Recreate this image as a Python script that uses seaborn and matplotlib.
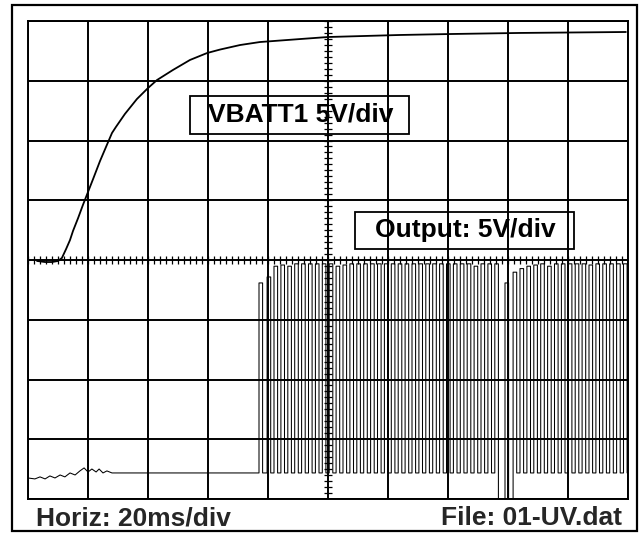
import numpy as np
import seaborn as sns
import matplotlib.pyplot as plt
from matplotlib.patches import Rectangle

# Scope capture: 20 ms/div horizontally, 5 V/div vertically
# VBATT1 trace (ms, V), ground at screen centre
vbatt_t = [3.0, 5.7, 8.0, 10.0, 11.3, 12.7, 14.0, 15.0, 16.7, 18.3, 20.0, 21.7, 24.0,
           26.7, 28.0, 29.3, 32.3, 36.3, 40.0, 43.0, 48.3, 54.0, 59.7, 64.0, 70.7, 77.3, 90.7,
           100.0, 124.0, 140.7, 164.0, 199.3]
vbatt_v = [-0.08, -0.17, -0.17, -0.08, 0.17, 0.92, 1.67, 2.43, 3.51, 4.60, 5.69, 6.78, 8.28,
           9.87, 10.63, 11.13, 12.22, 13.47, 14.39, 15.06, 15.90, 16.74, 17.32, 17.61, 17.99,
           18.24, 18.49, 18.66, 18.83, 18.91, 19.00, 19.08]

# Output trace before switching starts (ms, V)
out_idle_t = [0.0, 2.3, 4.0, 5.7, 7.3, 9.0, 10.7, 12.3, 14.0, 15.7, 17.3, 18.7, 20.0,
              21.3, 22.7, 23.7, 25.0, 26.3, 28.0, 77.0]
out_idle_v = [-0.42, -0.50, -0.33, -0.50, -0.25, -0.42, -0.17, -0.33, 0.0, -0.17, 0.17, 0.42, 0.08,
              0.33, 0.08, 0.33, 0.0, 0.17, 0.0, 0.0]

# Output pulses: rise time (ms), top level (V), level after the pulse (V)
pulse_rise = [77.0, 79.7, 82.0, 84.3, 86.6, 88.9, 91.2, 93.5, 95.8, 98.1, 100.4, 102.7,
              105.0, 107.3, 109.6, 111.9, 114.2, 116.5, 118.8, 121.1, 123.4, 125.7, 128.0,
              130.3, 132.6, 134.9, 137.2, 139.5, 141.8, 144.1, 146.4, 148.7, 151.0, 153.3,
              155.6, 159.0, 161.7, 164.0, 166.3, 168.6, 170.9, 173.2, 175.5, 177.8, 180.1,
              182.4, 184.7, 187.0, 189.3, 191.6, 193.9, 196.2, 198.5]
pulse_top = [15.9, 16.4, 17.3, 17.4, 17.3, 17.5, 17.5, 17.5, 17.5, 17.5, 17.5, 17.3,
             17.4, 17.5, 17.5, 17.5, 17.5, 17.5, 17.5, 17.5, 17.5, 17.5, 17.5,
             17.5, 17.5, 17.5, 17.5, 17.5, 17.5, 17.5, 17.5, 17.3, 17.5, 17.5,
             17.5, 15.9, 16.8, 17.1, 17.3, 17.4, 17.5, 17.3, 17.5, 17.5, 17.5,
             17.5, 17.5, 17.4, 17.5, 17.5, 17.5, 17.5, 17.5]
pulse_low = [0.0] * 34 + [-2.2, -2.2] + [0.0] * 17
PULSE_WIDTH = 1.2
OUT_GND = -17.82   # output channel ground marker position (V on screen scale)

# build the output polyline from the lists above
out_t = list(out_idle_t)
out_v = list(out_idle_v)
prev_low = 0.0
for t0, top, low in zip(pulse_rise, pulse_top, pulse_low):
    out_t += [t0, t0, t0 + PULSE_WIDTH, t0 + PULSE_WIDTH]
    out_v += [prev_low, top, top, low]
    prev_low = low
out_y = [v + OUT_GND for v in out_v]

sns.set_style("white")
plt.rcParams["font.family"] = ["Liberation Sans", "DejaVu Sans"]

W, H = 642, 533
fig = plt.figure(figsize=(W / 100, H / 100), dpi=100)


def fx(x):
    return x / W


def fy(y):
    return 1 - y / H


ax = fig.add_axes([fx(28), fy(499), 600 / W, 478 / H])
ax.set_xlim(0, 200)
ax.set_ylim(-20, 20)
ax.set_xticks(np.arange(0, 201, 20))
ax.set_yticks(np.arange(-20, 21, 5))
ax.set_xticklabels([])
ax.set_yticklabels([])
ax.tick_params(length=0)
ax.grid(True, color="black", lw=1.4, zorder=0)
ax.set_axisbelow(True)
for s in ax.spines.values():
    s.set_color("black")
    s.set_linewidth(1.4)

# small division marks on the centre lines
ax.vlines(np.arange(0, 201, 2), -0.35, 0.35, color="black", lw=0.9, zorder=1)
ax.hlines(np.arange(-20, 20.01, 0.5), 98.6, 101.4, color="black", lw=0.9, zorder=1)

sns.lineplot(x=out_t, y=out_y, sort=False, estimator=None, color="black", lw=0.75, ax=ax, zorder=3)
sns.lineplot(x=vbatt_t, y=vbatt_v, sort=False, estimator=None, color="black", lw=1.3, ax=ax, zorder=4)
ax.set_xlabel("")
ax.set_ylabel("")

# outer frame
fig.patches.append(Rectangle((fx(12), fy(531)), (637 - 12) / W, (531 - 5) / H,
                             transform=fig.transFigure, fill=False, ec="black", lw=1.6))

# channel labels
for (x0, y0, x1, y1), label in [((190, 96, 409, 134), "VBATT1 5V/div"),
                                ((355, 212, 574, 249), "Output: 5V/div")]:
    fig.patches.append(Rectangle((fx(x0), fy(y1)), (x1 - x0) / W, (y1 - y0) / H,
                                 transform=fig.transFigure, fill=False, ec="black", lw=1.3,
                                 zorder=5))
    fig.text(fx((x0 + x1) / 2 + 1), fy((y0 + y1) / 2), label, ha="center", va="center",
             fontsize=19, fontweight="bold", color="black")

fig.text(fx(36), fy(525), "Horiz: 20ms/div", ha="left", va="baseline",
         fontsize=19, fontweight="bold")
fig.text(fx(622), fy(525), "File: 01-UV.dat", ha="right", va="baseline",
         fontsize=19, fontweight="bold")

fig.savefig("out.png", dpi=100)
plt.close()
